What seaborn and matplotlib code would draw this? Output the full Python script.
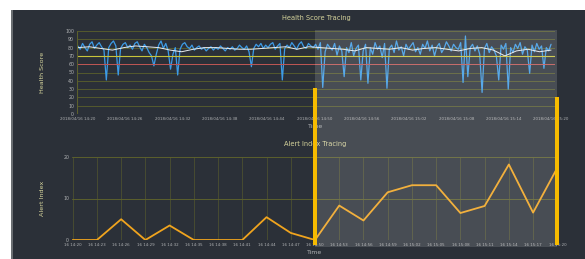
"""
Health score / alert index tracing dashboard (dark theme, two stacked panels
with a brushed time window).

Writes: out.png
"""

import numpy as np
import pandas as pd
import matplotlib
matplotlib.use("Agg")
import matplotlib.pyplot as plt
import matplotlib.dates as mdates
from matplotlib.patches import Rectangle
import seaborn as sns

# ---------------------------------------------------------------------------
# Data
# ---------------------------------------------------------------------------
START = "2018-04-16 14:20"
END   = "2018-04-16 15:20"

HEALTH_SCORE = [
    82, 78, 85, 80, 76, 84, 87, 79, 83, 86, 81, 77, 41, 80, 85, 88, 82, 47, 79, 84,
    86, 80, 83, 78, 85, 87, 81, 76, 84, 80, 74, 70, 58, 72, 83, 88, 79, 85, 76, 54,
    72, 80, 47, 78, 84, 86, 81, 79, 83, 77, 80, 82, 78, 80, 76, 79, 81, 77, 80, 78,
    82, 79, 76, 80, 78, 81, 77, 79, 83, 80, 78, 82, 75, 57, 79, 84, 81, 85, 79, 83,
    80, 84, 86, 78, 82, 85, 41, 79, 83, 80, 86, 82, 78, 84, 87, 81, 79, 85, 82, 80,
    84, 78, 86, 32, 75, 84, 80, 77, 85, 71, 82, 76, 45, 80, 74, 86, 70, 79, 83, 41,
    76, 84, 37, 80, 72, 86, 78, 82, 68, 85, 31, 79, 83, 74, 88, 77, 81, 70, 84, 78,
    82, 86, 75, 80, 72, 84, 79, 88, 76, 83, 70, 81, 85, 74, 79, 87, 82, 76, 84, 80,
    78, 86, 38, 94, 45, 80, 84, 76, 82, 72, 26, 79, 85, 74, 81, 77, 70, 41, 83, 78,
    85, 30, 80, 74, 84, 79, 86, 72, 81, 77, 49, 83, 75, 85, 78, 82, 55, 80, 76, 84,
]

HEALTH_SMOOTH = [
    80, 81, 79, 77, 80, 82, 81, 80, 77, 75, 78, 80, 80, 79, 78, 78, 79, 80, 81, 78, 81,
    80, 79, 78, 76, 80, 79, 78, 80, 77, 79, 80, 78, 76, 79, 80, 77, 70, 76, 78, 75, 77,
]

ALERT_INDEX = [0, 0, 5, 0, 3.5, 0, 0, 0, 5.5, 1.7, 0,
               8.3, 4.7, 11.5, 13.2, 13.2, 6.5, 8.2, 18.2, 6.6, 17.4]

WARN_LEVEL   = 70
DANGER_LEVEL = 60
BRUSH_START  = 10          # first alert sample inside the brushed window

# ---------------------------------------------------------------------------
# Style
# ---------------------------------------------------------------------------
BG        = "#2b3038"
GRID      = "#5c602c"
TITLE_COL = "#d6d49c"
TICK_COL  = "#b0b2b4"
BLUE      = "#3d9be6"
ORANGE    = "#f0a41e"
BRUSH     = "#f7bb00"

W, H = 585, 259

sns.set_theme(style="dark")
plt.rcParams["font.family"] = ["DejaVu Sans"]


def style_axes(ax):
    ax.set_facecolor("none")
    for sp in ax.spines.values():
        sp.set_visible(False)
    ax.tick_params(colors=TICK_COL, length=0, pad=2, labelsize=3.4)
    ax.tick_params(axis="x", labelsize=2.9)


fig = plt.figure(figsize=(W / 100, H / 100), dpi=100)
fig.patch.set_facecolor("white")

# dark panel + light left edge
fig.patches.append(Rectangle((12 / W, 0), 1 - 12 / W, 249 / H, transform=fig.transFigure,
                             facecolor=BG, edgecolor="none", zorder=-10))
fig.patches.append(Rectangle((11 / W, 0), 2 / W, 249 / H, transform=fig.transFigure,
                             facecolor="#6a6e72", edgecolor="none", zorder=-9))

ax1 = fig.add_axes([77 / W, 1 - 114 / H, 478 / W, 83 / H])
ax2 = fig.add_axes([72 / W, 1 - 240 / H, 486 / W, 83 / H])

# ---------------------------------------------------------------------------
# Health score panel
# ---------------------------------------------------------------------------
t_hs = pd.date_range(START, END, periods=len(HEALTH_SCORE))
t_sm = pd.date_range(START, END, periods=len(HEALTH_SMOOTH))

style_axes(ax1)
sns.lineplot(x=t_hs, y=HEALTH_SCORE, ax=ax1, color=BLUE, linewidth=0.9)
sns.lineplot(x=t_sm, y=HEALTH_SMOOTH, ax=ax1, color="#e8ecef", linewidth=0.7)
ax1.axhline(WARN_LEVEL, color="#c9c43a", linewidth=0.8)
ax1.axhline(DANGER_LEVEL, color="#c05555", linewidth=0.7)

ax1.set_ylim(0, 100)
ax1.set_yticks(range(0, 101, 10))
ax1.yaxis.grid(True, color=GRID, linewidth=0.6)
ax1.xaxis.grid(False)
ax1.axvline(pd.Timestamp(START) - pd.Timedelta(seconds=6), color=GRID, linewidth=0.8)
ax1.set_xlim(pd.Timestamp(START) - pd.Timedelta(seconds=6),
             pd.Timestamp(END) + pd.Timedelta(seconds=30))
top_ticks = pd.date_range(START, END, freq="6min")
ax1.set_xticks(mdates.date2num(top_ticks))
ax1.xaxis.set_major_formatter(mdates.DateFormatter("%Y/%m/%d %H:%M"))
ax1.set_title("Health Score Tracing", color=TITLE_COL, fontsize=4.8, pad=8)
ax1.set_ylabel("Health Score", color=TITLE_COL, fontsize=4.6)
ax1.yaxis.set_label_coords(-0.066, 0.5)
ax1.set_xlabel("Time", color=TICK_COL, fontsize=4.4, labelpad=2)

# ---------------------------------------------------------------------------
# Alert index panel
# ---------------------------------------------------------------------------
t_ai = pd.date_range(START, END, periods=len(ALERT_INDEX))

style_axes(ax2)
sns.lineplot(x=t_ai, y=ALERT_INDEX, ax=ax2, color=ORANGE, linewidth=1.3)
ax2.set_ylim(0, 20)
ax2.set_yticks([0, 10, 20])
ax2.set_xlim(t_ai[0] - pd.Timedelta(seconds=5), t_ai[-1] + pd.Timedelta(seconds=5))
ax2.set_xticks(mdates.date2num(t_ai))
ax2.xaxis.set_major_formatter(mdates.DateFormatter("%d %H:%M"))
ax2.yaxis.grid(True, color=GRID, linewidth=0.7)
ax2.xaxis.grid(True, color=GRID, linewidth=0.5, alpha=0.8)
ax2.set_title("Alert Index Tracing", color=TITLE_COL, fontsize=4.8, pad=8)
ax2.set_ylabel("Alert Index", color=TITLE_COL, fontsize=4.6)
ax2.yaxis.set_label_coords(-0.056, 0.5)
ax2.set_xlabel("Time", color=TICK_COL, fontsize=4.4, labelpad=2)

# ---------------------------------------------------------------------------
# Brushed window, placed from the alert panel's own time scale
# ---------------------------------------------------------------------------
to_fig = fig.transFigure.inverted()
x_lo = to_fig.transform(ax2.transData.transform((mdates.date2num(t_ai[BRUSH_START]), 0)))[0]
x_hi = to_fig.transform(ax2.transData.transform((mdates.date2num(t_ai[-1]), 0)))[0]
bar_w = 4 / W

fig.patches.append(Rectangle((x_lo, 1 - 247 / H), x_hi - x_lo, (247 - 30) / H,
                             transform=fig.transFigure, facecolor="white", alpha=0.14,
                             edgecolor="none", zorder=5))
fig.patches.append(Rectangle((x_lo - bar_w / 2, 1 - 245 / H), bar_w, (245 - 88) / H,
                             transform=fig.transFigure, facecolor=BRUSH,
                             edgecolor="none", zorder=6))
fig.patches.append(Rectangle((x_hi - bar_w / 2, 1 - 245 / H), bar_w, (245 - 97) / H,
                             transform=fig.transFigure, facecolor=BRUSH,
                             edgecolor="none", zorder=6))

fig.savefig("out.png", dpi=100, facecolor=fig.get_facecolor())
plt.close(fig)
